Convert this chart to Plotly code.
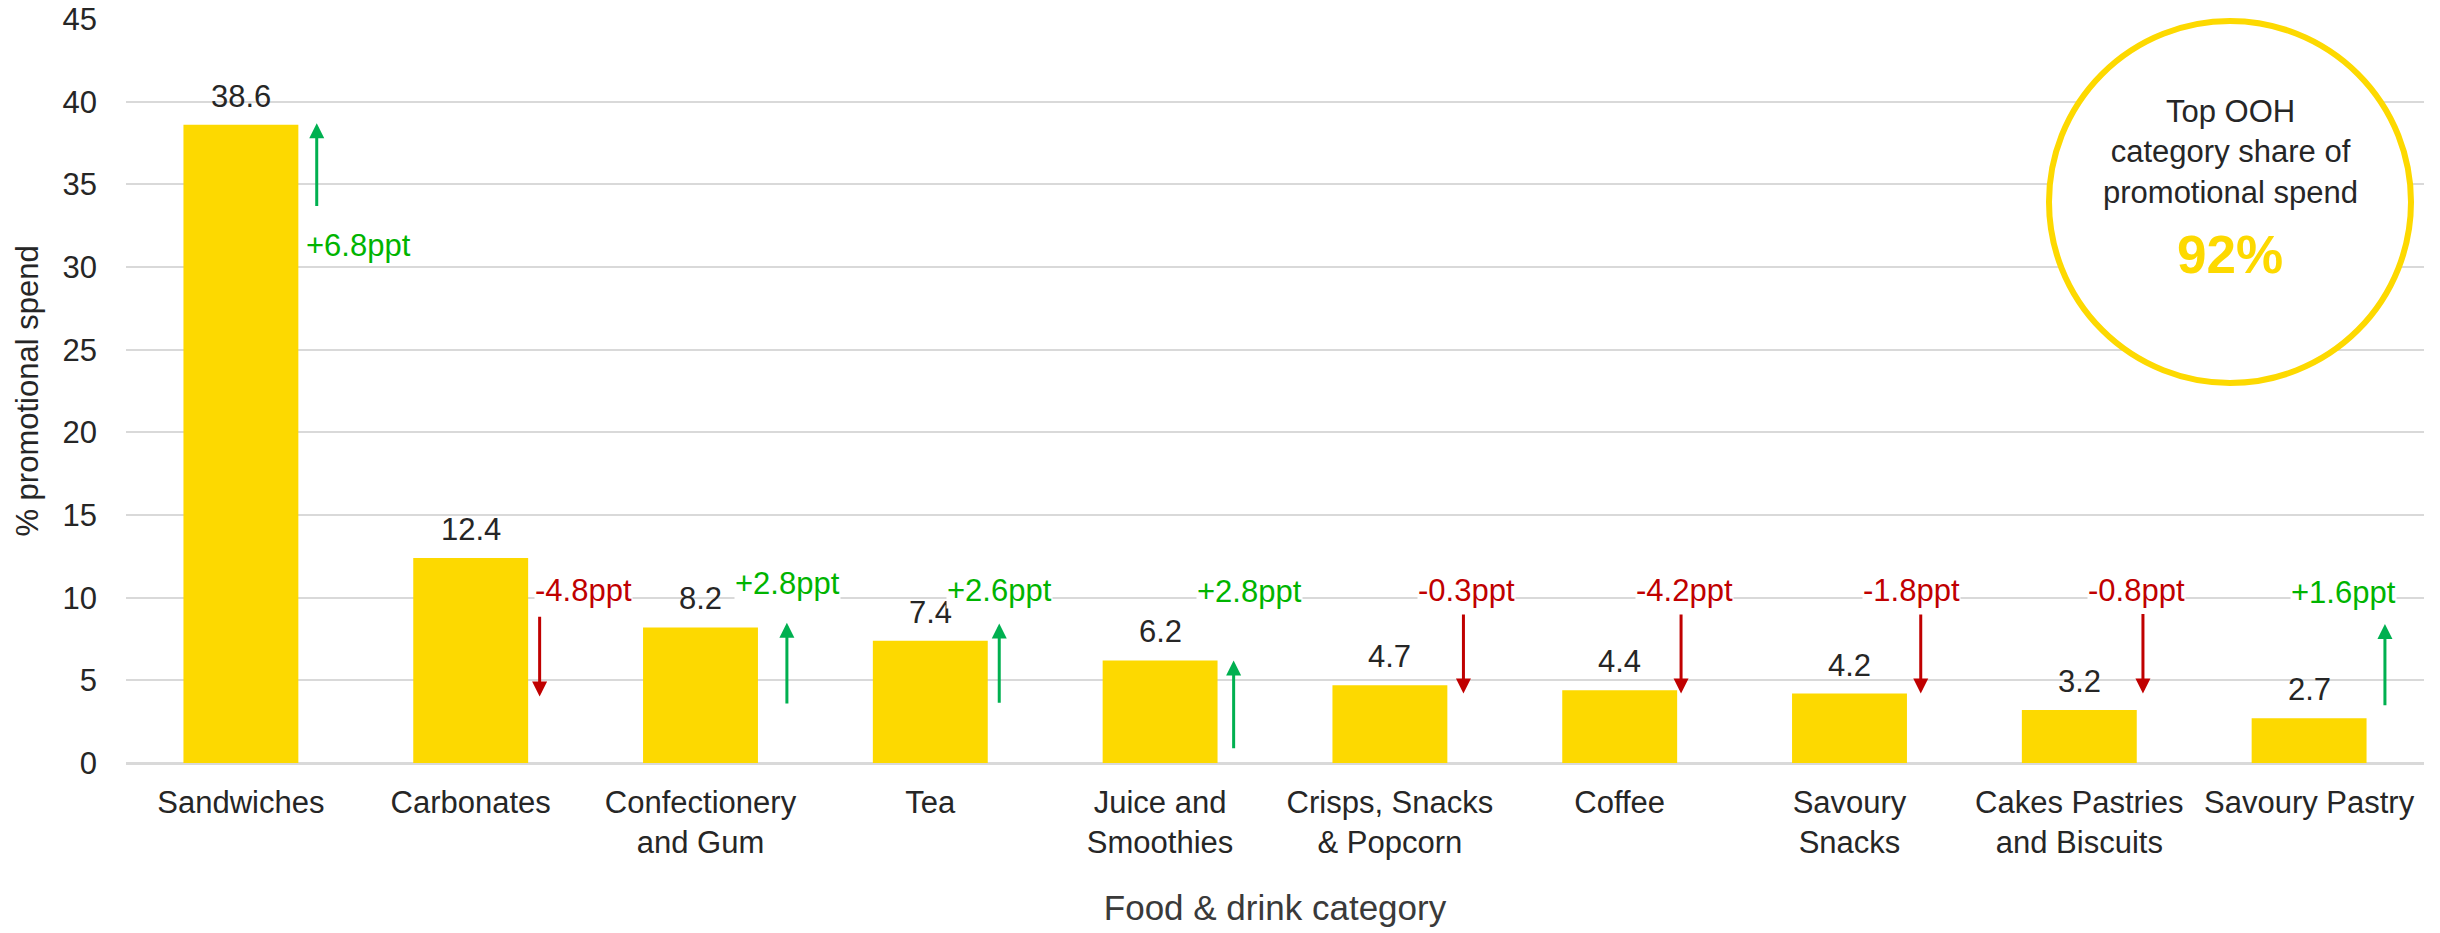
import plotly.graph_objects as go

# Share of out-of-home promotional spend by food & drink category
categories = [
    "Sandwiches", "Carbonates", "Confectionery<br>and Gum", "Tea",
    "Juice and<br>Smoothies", "Crisps, Snacks<br>& Popcorn", "Coffee",
    "Savoury<br>Snacks", "Cakes Pastries<br>and Biscuits", "Savoury Pastry",
]
promo_share = [38.6, 12.4, 8.2, 7.4, 6.2, 4.7, 4.4, 4.2, 3.2, 2.7]
change_ppt = [6.8, -4.8, 2.8, 2.6, 2.8, -0.3, -4.2, -1.8, -0.8, 1.6]
top_share_label = "92%"

# Arrow placement (x offset from bar centre, tail and tip heights on the y axis)
arrow_dx = [0.33, 0.30, 0.376, 0.30, 0.32, 0.32, 0.267, 0.31, 0.277, 0.33]
arrow_tail = [33.6, 8.94, 3.51, 3.56, 0.8, 9.08, 9.08, 9.08, 9.1, 3.4]
arrow_tip = [38.7, 4.02, 8.49, 8.44, 6.2, 4.2, 4.2, 4.2, 4.2, 8.4]
# Change label placement
label_dx = [0.51, 0.49, 0.378, 0.30, 0.39, 0.335, 0.28, 0.27, 0.247, 0.15]
label_y = [31.3, 10.44, 10.84, 10.45, 10.4, 10.44, 10.44, 10.44, 10.45, 10.3]

FONT = "Liberation Sans, Arial, sans-serif"
GOLD = "#FDD900"
DARK = "#262626"
GREEN_TXT = "#00B400"
GREEN_ARROW = "#00B050"
RED = "#C00000"

# plot area in pixels, used to place the callout circle
W, H = 2440, 933
ML, MR, MT, MB = 126, 16, 19, 170
PW, PH = W - ML - MR, H - MT - MB
CX, CY, CR = 2230, 202, 181  # circle centre / radius in pixels


def px_x(px):
    return (px - ML) / PW


def px_y(py):
    return (H - MB - py) / PH


x_idx = list(range(len(categories)))

fig = go.Figure(
    go.Bar(
        x=x_idx,
        y=promo_share,
        width=0.5,
        marker=dict(color=GOLD, line=dict(width=0)),
        hoverinfo="skip",
    )
)

annotations = []
# value labels above bars
for i, v in enumerate(promo_share):
    annotations.append(dict(
        x=i, y=v, xref="x", yref="y", text=f"{v:.1f}", showarrow=False,
        xanchor="center", yanchor="bottom", yshift=9,
        font=dict(family=FONT, size=31, color=DARK),
    ))

# change arrows and labels
for i, c in enumerate(change_ppt):
    col_arrow = GREEN_ARROW if c >= 0 else RED
    col_txt = GREEN_TXT if c >= 0 else RED
    annotations.append(dict(
        x=i + arrow_dx[i], y=arrow_tip[i], xref="x", yref="y",
        ax=i + arrow_dx[i], ay=arrow_tail[i], axref="x", ayref="y",
        text="", showarrow=True, arrowhead=2, arrowsize=1, arrowwidth=3,
        arrowcolor=col_arrow, standoff=0, startstandoff=0,
    ))
    annotations.append(dict(
        x=i + label_dx[i], y=label_y[i], xref="x", yref="y",
        xanchor="center", yanchor="middle",
        text=f"{c:+.1f}ppt", showarrow=False, bgcolor="white", borderpad=0,
        font=dict(family=FONT, size=31, color=col_txt),
    ))

# callout inside the circle
annotations.append(dict(
    x=px_x(CX), y=px_y(152), xref="paper", yref="paper",
    xanchor="center", yanchor="middle",
    text="Top OOH<br>category share of<br>promotional spend", showarrow=False,
    font=dict(family=FONT, size=31, color=DARK), align="center",
))
annotations.append(dict(
    x=px_x(CX), y=px_y(254), xref="paper", yref="paper",
    xanchor="center", yanchor="middle",
    text=f"<b>{top_share_label}</b>", showarrow=False,
    font=dict(family=FONT, size=53, color=GOLD),
))

fig.update_layout(
    width=W, height=H,
    margin=dict(l=ML, r=MR, t=MT, b=MB),
    paper_bgcolor="white", plot_bgcolor="white",
    showlegend=False,
    font=dict(family=FONT, size=31, color=DARK),
    annotations=annotations,
    shapes=[dict(
        type="circle", xref="paper", yref="paper",
        x0=px_x(CX - CR), x1=px_x(CX + CR),
        y0=px_y(CY + CR), y1=px_y(CY - CR),
        line=dict(color=GOLD, width=6),
        fillcolor="rgba(255,255,255,1)", layer="above",
    )],
    xaxis=dict(
        range=[-0.5, 9.5], tickmode="array", tickvals=x_idx, ticktext=categories,
        showgrid=False, zeroline=False, showline=False, ticks="",
        ticklabelstandoff=18,
        tickfont=dict(family=FONT, size=31, color=DARK),
        title=dict(text="Food & drink category", standoff=36,
                   font=dict(family=FONT, size=35, color="#3A3A3A")),
        automargin=False,
    ),
    yaxis=dict(
        range=[0, 45], tickmode="array", tickvals=list(range(0, 50, 5)),
        showgrid=True, gridcolor="#D9D9D9", gridwidth=2,
        zeroline=True, zerolinecolor="#D9D9D9", zerolinewidth=3,
        showline=False, ticks="", ticklabelstandoff=28,
        tickfont=dict(family=FONT, size=31, color=DARK),
        title=dict(text="% promotional spend", standoff=14,
                   font=dict(family=FONT, size=31, color=DARK)),
        automargin=False,
    ),
)

fig.write_html("out.html")
